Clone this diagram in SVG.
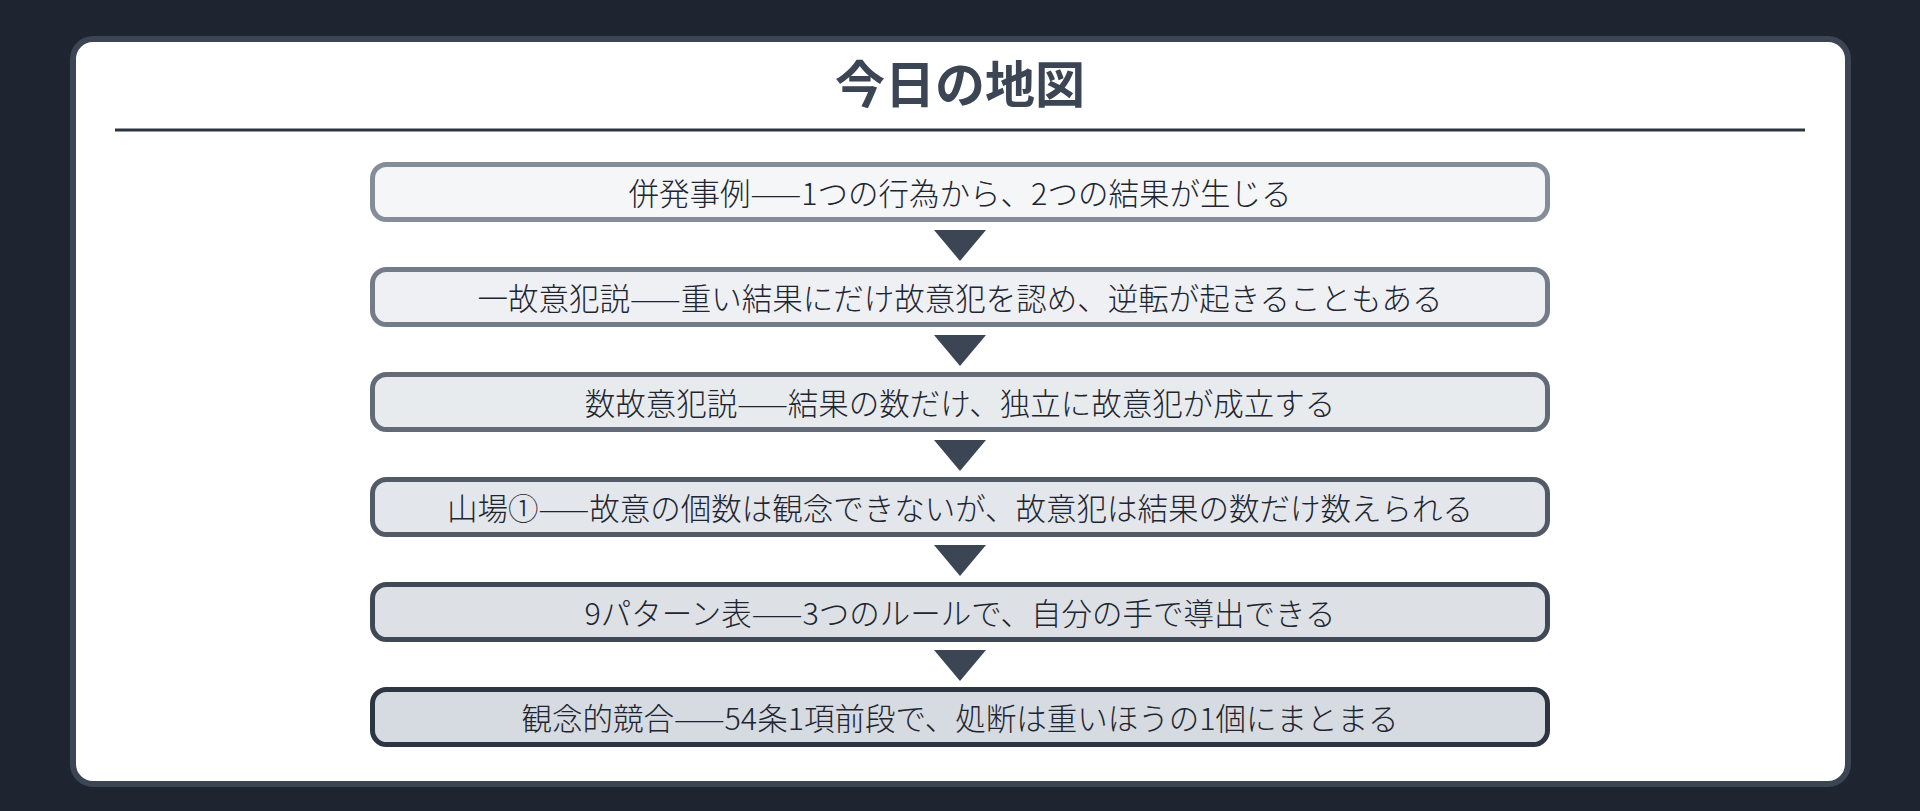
<svg xmlns="http://www.w3.org/2000/svg" width="1920" height="811" viewBox="0 0 1920 811">
<style>
.bg{fill:#1e2530}
.card{fill:#ffffff;stroke:#3b4554;stroke-width:6}
.title{font-family:"Noto Sans CJK JP","Noto Sans",sans-serif;font-size:50px;font-weight:700;fill:#3b4554;text-anchor:middle}
.rule{stroke:#2d3440;stroke-width:3}
.box rect{stroke-width:5}
.box text{font-family:"Noto Sans CJK JP","Noto Sans",sans-serif;font-size:30.5px;font-weight:300;fill:#1e2530;text-anchor:middle}
.arrow{fill:#3b4554}
</style>
<rect class="bg" x="0" y="0" width="1920" height="811"/>
<rect class="card" x="73" y="39" width="1775" height="745" rx="20"/>
<g id="title">
<text class="title" x="960" y="103">今日の地図</text>
<line class="rule" x1="115" y1="130" x2="1805" y2="130"/>
</g>
<g id="node1" class="box">
<rect x="372.5" y="164.5" width="1175" height="55" rx="14" fill="#f4f6f8" stroke="#858d99"/>
<text x="960" y="205">併発事例——1つの行為から、2つの結果が生じる</text>
</g>
<g id="node2" class="box">
<rect x="372.5" y="269.5" width="1175" height="55" rx="14" fill="#eef0f3" stroke="#747c89"/>
<text x="960" y="310">一故意犯説——重い結果にだけ故意犯を認め、逆転が起きることもある</text>
</g>
<g id="node3" class="box">
<rect x="372.5" y="374.5" width="1175" height="55" rx="14" fill="#e8ebee" stroke="#636b78"/>
<text x="960" y="415">数故意犯説——結果の数だけ、独立に故意犯が成立する</text>
</g>
<g id="node4" class="box">
<rect x="372.5" y="479.5" width="1175" height="55" rx="14" fill="#e3e6ea" stroke="#525a67"/>
<text x="960" y="520">山場①——故意の個数は観念できないが、故意犯は結果の数だけ数えられる</text>
</g>
<g id="node5" class="box">
<rect x="372.5" y="584.5" width="1175" height="55" rx="14" fill="#dde1e5" stroke="#414956"/>
<text x="960" y="625">9パターン表——3つのルールで、自分の手で導出できる</text>
</g>
<g id="node6" class="box">
<rect x="372.5" y="689.5" width="1175" height="55" rx="14" fill="#d6dae1" stroke="#2e3542"/>
<text x="960" y="730">観念的競合——54条1項前段で、処断は重いほうの1個にまとまる</text>
</g>
<g id="connectors">
<polygon class="arrow" points="934,230 986,230 960,261"/>
<polygon class="arrow" points="934,335 986,335 960,366"/>
<polygon class="arrow" points="934,440 986,440 960,471"/>
<polygon class="arrow" points="934,545 986,545 960,576"/>
<polygon class="arrow" points="934,650 986,650 960,681"/>
</g>
</svg>
